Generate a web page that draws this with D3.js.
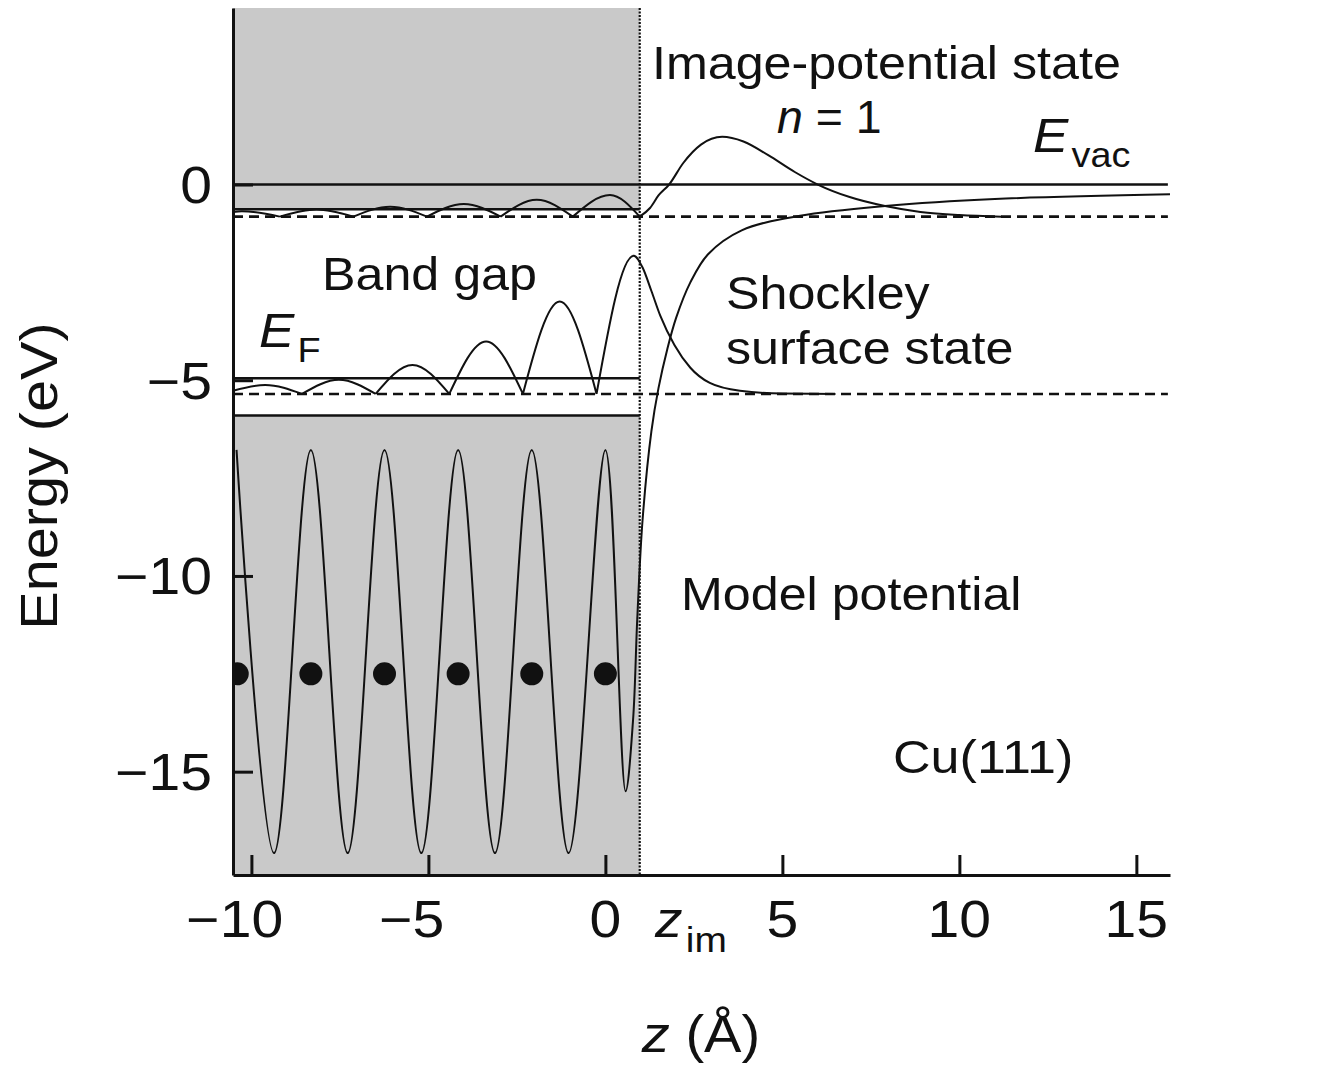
<!DOCTYPE html>
<html>
<head>
<meta charset="utf-8">
<script src="https://cdn.jsdelivr.net/npm/d3@7"></script>
<style>
  html, body { margin: 0; padding: 0; background: #fff; }
  svg { display: block; }
  text { font-family: "Liberation Sans", Arial, Helvetica, sans-serif; fill: #111; }
</style>
</head>
<body>
<svg id="chart" width="1342" height="1067"></svg>
<script>
// ---- axis ticks ----
const zTicks = [-10, -5, 0, 5, 10, 15];
const energyTicks = [0, -5, -10, -15];

// ---- reference energies (eV, relative to the vacuum level) ----
const vacuumLevel = 0;
const gapTop = -0.63;
const imageStateLevel = -0.82;
const fermiLevel = -4.95;
const shockleyLevel = -5.35;
const gapBottom = -5.9;
const zImagePlane = 0.97;

// ---- ion cores of the top layers ----
const atomZ = [-10.40, -8.32, -6.24, -4.16, -2.08, 0];
const atomEnergy = -12.5;

// ---- model potential V(z) ----
const potentialZ = [-10.42, -9.36, -8.32, -7.28, -6.24, -5.20, -4.16, -3.12, -2.08, -1.04, 0,
                    0.57, 0.78, 0.90, 1.05, 1.30, 1.50, 1.75, 2.0, 2.4, 2.9, 3.85, 5.5, 7.9, 11.0, 15.95];
const potentialE = [-6.78, -17.08, -6.78, -17.08, -6.78, -17.08, -6.78, -17.08, -6.78, -17.08, -6.78,
                    -15.5, -13.7, -11.1, -8.57, -6.3, -5.2, -4.2, -3.4, -2.5, -1.78, -1.17, -0.80, -0.55, -0.37, -0.25];

// ---- n = 1 image-potential state, drawn on its own energy level ----
const imageStateZ = [-10.52, -10.27, -9.20, -8.16, -7.12, -6.08, -5.04, -4.00, -2.96, -1.94, -0.92, 0.13, 0.97,
                     1.26, 1.5, 1.8, 2.2, 2.7, 3.3, 3.9, 4.6, 5.35, 6.0, 6.9, 7.9, 8.9, 10.0, 11.2];
const imageStateE = [-0.70, -0.68, -0.82, -0.64, -0.82, -0.57, -0.82, -0.50, -0.82, -0.39, -0.82, -0.27, -0.82,
                     -0.60, -0.28, 0.0, 0.55, 1.02, 1.22, 1.10, 0.75, 0.32, 0.0, -0.32, -0.55, -0.70, -0.78, -0.82];

// ---- Shockley surface state, drawn on its own energy level ----
const shockleyZ = [-10.52, -9.61, -8.57, -7.53, -6.49, -5.45, -4.41, -3.37, -2.33, -1.29, -0.25,
                   0.80, 1.05, 1.30, 1.55, 1.95, 2.40, 2.95, 3.80, 5.0, 6.5];
const shockleyE = [-5.27, -5.12, -5.35, -4.99, -5.35, -4.61, -5.35, -4.01, -5.35, -2.99, -5.35,
                   -1.82, -2.12, -2.72, -3.35, -4.10, -4.68, -5.07, -5.27, -5.34, -5.35];

// ---- scales ----
const zDomain = [-10.52, 15.95];
const eDomain = [4.51, -17.64];
const x = d3.scaleLinear().domain(zDomain).range([233, 1170]);
const y = d3.scaleLinear().domain(eDomain).range([8, 875]);

const svg = d3.select("#chart");
const INK = "#111";
const STRETCH = 1.08;   // horizontal glyph width of the label face

svg.append("defs").append("clipPath").attr("id", "plot-clip")
  .append("rect")
  .attr("x", x(zDomain[0])).attr("y", y(eDomain[0]))
  .attr("width", x(zDomain[1]) - x(zDomain[0]))
  .attr("height", y(eDomain[1]) - y(eDomain[0]));

const plot = svg.append("g").attr("clip-path", "url(#plot-clip)");

// ---- bulk bands (shaded) left of the image plane ----
plot.append("rect")
  .attr("x", x(zDomain[0])).attr("y", y(eDomain[0]))
  .attr("width", x(zImagePlane) - x(zDomain[0]))
  .attr("height", y(gapTop) - y(eDomain[0]))
  .attr("fill", "#c9c9c9");
plot.append("rect")
  .attr("x", x(zDomain[0])).attr("y", y(gapBottom))
  .attr("width", x(zImagePlane) - x(zDomain[0]))
  .attr("height", y(eDomain[1]) - y(gapBottom))
  .attr("fill", "#c9c9c9");

// ---- image plane ----
plot.append("line")
  .attr("x1", x(zImagePlane)).attr("x2", x(zImagePlane))
  .attr("y1", y(eDomain[0])).attr("y2", y(eDomain[1]))
  .attr("stroke", INK).attr("stroke-width", 2.2)
  .attr("stroke-dasharray", "2,1.5");

// ---- energy levels ----
function level(e, toZ, dashed) {
  plot.append("line")
    .attr("x1", x(zDomain[0])).attr("x2", x(toZ))
    .attr("y1", y(e)).attr("y2", y(e))
    .attr("stroke", INK).attr("stroke-width", 2.6)
    .attr("stroke-dasharray", dashed ? "10,6" : null);
}
level(vacuumLevel, zDomain[1] - 0.06, false);
level(gapTop, zImagePlane, false);
level(imageStateLevel, zDomain[1] - 0.06, true);
level(fermiLevel, zImagePlane, false);
level(shockleyLevel, zDomain[1] - 0.06, true);
level(gapBottom, zImagePlane, false);

// ---- potential ----
const potentialLine = d3.line()
  .x(d => x(d[0])).y(d => y(d[1]))
  .curve(d3.curveCatmullRom.alpha(0.5));
plot.append("path")
  .attr("d", potentialLine(d3.zip(potentialZ, potentialE)))
  .attr("fill", "none").attr("stroke", INK).attr("stroke-width", 2);

// ---- wave functions: one smooth arch between consecutive nodes ----
const archLine = d3.line()
  .x(d => x(d[0])).y(d => y(d[1]))
  .curve(d3.curveMonotoneX);
function drawWave(zs, es, base) {
  const pts = d3.zip(zs, es);
  let seg = [pts[0]];
  const segs = [];
  for (let i = 1; i < pts.length; i++) {
    seg.push(pts[i]);
    if (pts[i][1] === base && i < pts.length - 1) {
      segs.push(seg);
      seg = [pts[i]];
    }
  }
  segs.push(seg);
  plot.append("path")
    .attr("d", segs.map(s => archLine(s)).join(""))
    .attr("fill", "none").attr("stroke", INK).attr("stroke-width", 2)
    .attr("stroke-linejoin", "miter");
}
drawWave(imageStateZ, imageStateE, imageStateLevel);
drawWave(shockleyZ, shockleyE, shockleyLevel);

// ---- ion cores ----
plot.selectAll("circle.atom").data(atomZ).enter().append("circle")
  .attr("class", "atom")
  .attr("cx", d => x(d)).attr("cy", y(atomEnergy)).attr("r", 11.5)
  .attr("fill", INK);

// ---- axes ----
const yAxis = d3.axisLeft(y).tickValues(energyTicks).tickSizeInner(-20).tickSizeOuter(0).tickFormat("");
const xAxis = d3.axisBottom(x).tickValues(zTicks).tickSizeInner(-20).tickSizeOuter(0).tickFormat("");
const gy = svg.append("g").attr("transform", `translate(${x(zDomain[0])},0)`).call(yAxis);
const gx = svg.append("g").attr("transform", `translate(0,${y(eDomain[1])})`).call(xAxis);
[gy, gx].forEach(g => {
  g.select(".domain").attr("stroke", INK).attr("stroke-width", 3);
  g.selectAll(".tick line").attr("stroke", INK).attr("stroke-width", 3);
});

// ---- text helpers ----
function addText(px, py, parts, opts = {}) {
  const sx = opts.sx || STRETCH;
  const tr = `translate(${px},${py})` + (opts.rotate ? ` rotate(${opts.rotate})` : "") + ` scale(${sx},1)`;
  const t = svg.append("text")
    .attr("transform", tr)
    .attr("font-size", opts.size || 46.5)
    .attr("text-anchor", opts.anchor || "start");
  if (opts.dy) t.attr("dy", opts.dy);
  parts.forEach(p => {
    const s = t.append("tspan").text(p.t);
    if (p.italic) s.attr("font-style", "italic");
    if (p.size) s.attr("font-size", p.size);
    if (p.dy) s.attr("dy", p.dy);
    if (p.dx) s.attr("dx", p.dx);
  });
  return t;
}
const fmt = v => String(Math.abs(v));

// y tick labels (right aligned)
energyTicks.forEach(v => {
  addText(212, y(v), [{ t: (v < 0 ? "\u2212" : "") + fmt(v) }],
    { size: 51, anchor: "end", dy: "0.36em", sx: 1.12 });
});

// x tick labels: digits centred on the tick, minus sign hanging to the left
zTicks.forEach(v => {
  const t = addText(x(v), 937, [{ t: fmt(v) }], { size: 51, anchor: "middle", sx: 1.12 });
  if (v < 0) {
    const w = t.node().getComputedTextLength() * 1.12;
    addText(x(v) - w / 2, 937, [{ t: "\u2212" }], { size: 51, anchor: "end", sx: 1.12 });
  }
});

// z_im marker under the axis
addText(655, 937, [{ t: "z", italic: true }, { t: "im", size: 36, dy: 15, dx: 3 }], { size: 51 });

// axis titles
addText(701, 1052, [{ t: "z", italic: true }, { t: " (\u00C5)" }], { size: 51, anchor: "middle", sx: 1.1 });
addText(57, 476, [{ t: "Energy (eV)" }], { size: 51, anchor: "middle", rotate: -90, sx: 1.13 });

// annotations
addText(652, 79, [{ t: "Image-potential state" }]);
addText(777, 133, [{ t: "n", italic: true }, { t: " = 1" }], { sx: 1.0 });
addText(1033, 152, [{ t: "E", italic: true }, { t: "vac", size: 35, dy: 15, dx: 3 }], { size: 49 });
addText(322, 290, [{ t: "Band gap" }]);
addText(259, 347, [{ t: "E", italic: true }, { t: "F", size: 35, dy: 15, dx: 3 }], { size: 49 });
addText(726, 309, [{ t: "Shockley" }]);
addText(726, 364, [{ t: "surface state" }]);
addText(681, 610, [{ t: "Model potential" }]);
addText(893, 773, [{ t: "Cu(111)" }], { sx: 1.12 });
</script>
</body>
</html>
